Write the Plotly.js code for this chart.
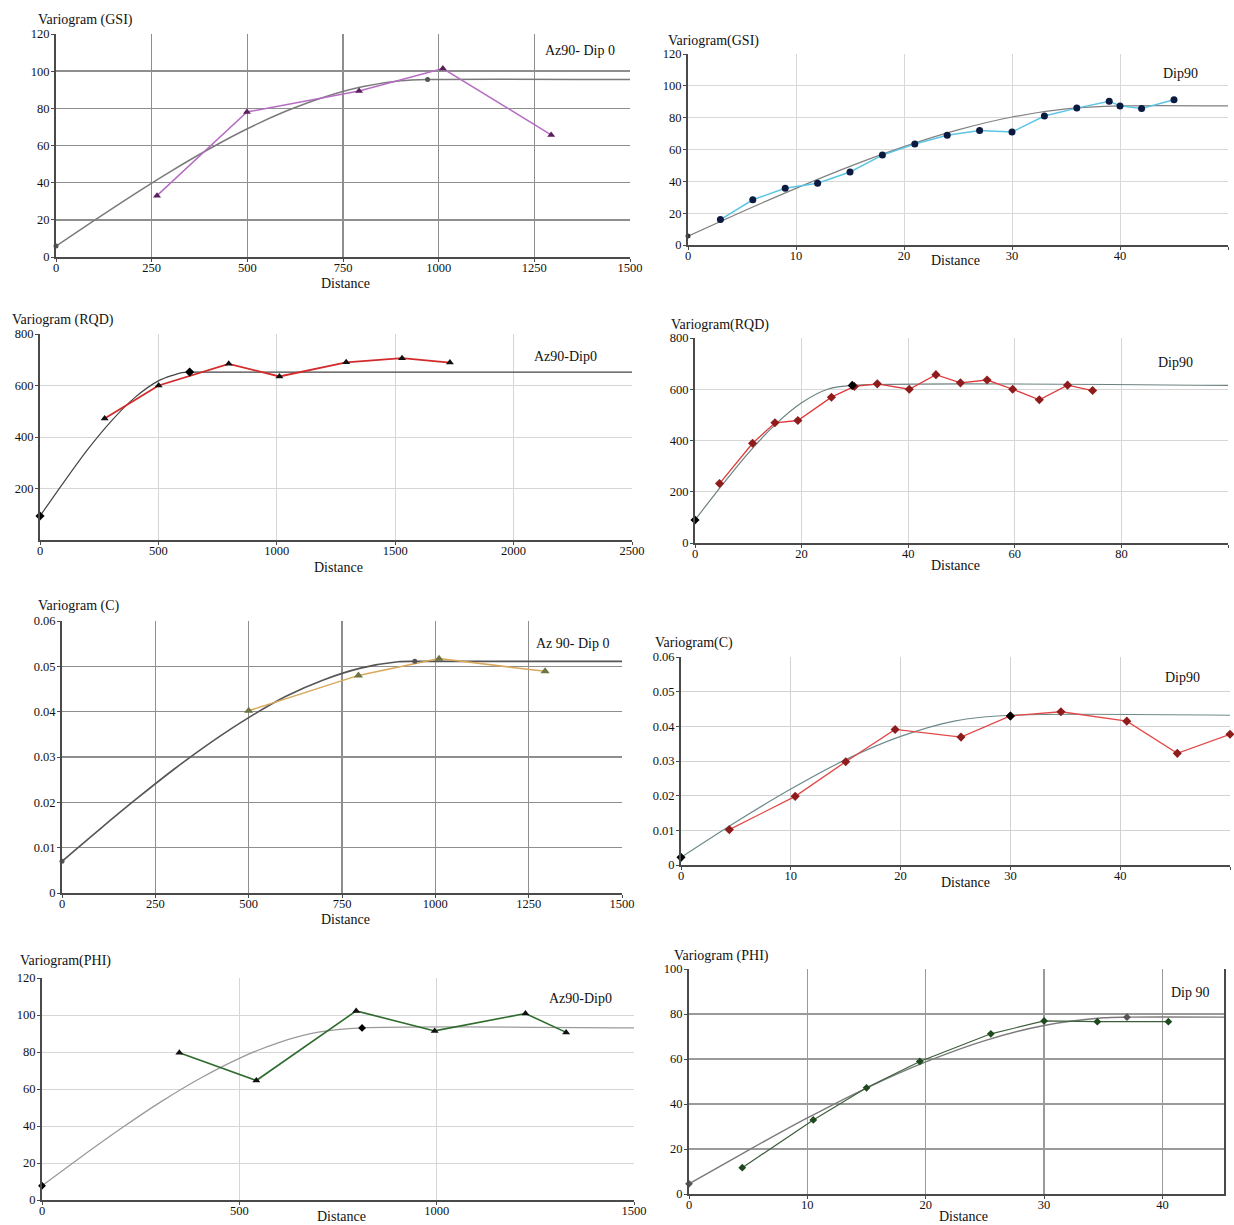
<!DOCTYPE html>
<html>
<head>
<meta charset="utf-8">
<script src="https://cdn.plot.ly/plotly-3.0.1.min.js"></script>
<style>html,body{margin:0;padding:0;background:#fff;}#chart{width:1234px;height:1225px;}</style>
</head>
<body>
<div id="chart"></div>
<script>
// ---------- Panel 1: Variogram (GSI), Az90- Dip 0 ----------
var gsiAzDist   = [264, 499, 792, 1011, 1294];
var gsiAzGamma  = [33.0, 78.0, 89.3, 101.4, 65.7];
var gsiAzModelX = [0, 100, 200, 300, 400, 500, 600, 700, 800, 900, 971, 1500];
var gsiAzModelY = [5.9, 19.7, 33.2, 46.1, 58.1, 69.0, 78.4, 86.0, 91.6, 94.8, 95.5, 95.5];
var gsiAzMarkX  = [0, 971];
var gsiAzMarkY  = [5.9, 95.5];

// ---------- Panel 2: Variogram(GSI), Dip90 ----------
var gsiDipDist   = [3, 6, 9, 12, 15, 18, 21, 24, 27, 30, 33, 36, 39, 40, 42, 45];
var gsiDipGamma  = [16.0, 28.4, 35.7, 38.8, 45.9, 56.5, 63.5, 68.9, 72.0, 71.0, 81.0, 86.0, 90.3, 87.4, 85.7, 91.3];
var gsiDipModelX = [0, 5, 10, 15, 20, 25, 30, 35, 40, 50];
var gsiDipModelY = [5.6, 20.9, 35.6, 49.4, 61.8, 72.3, 80.4, 85.5, 87.4, 87.4];
var gsiDipMarkX  = [0];
var gsiDipMarkY  = [5.6];

// ---------- Panel 3: Variogram (RQD), Az90-Dip0 ----------
var rqdAzDist   = [273, 501, 797, 1011, 1293, 1529, 1731];
var rqdAzGamma  = [472, 600, 684, 635, 690, 706, 689];
var rqdAzModelX = [0, 100, 200, 300, 400, 500, 600, 632, 2500];
var rqdAzModelY = [93, 224, 350, 461, 553, 618, 650, 652, 652];
var rqdAzMarkX  = [0, 632];
var rqdAzMarkY  = [93, 652];

// ---------- Panel 4: Variogram(RQD), Dip90 ----------
var rqdDipDist   = [4.6, 10.8, 15.0, 19.3, 25.6, 29.9, 34.2, 40.2, 45.2, 49.8, 54.8, 59.6, 64.6, 69.9, 74.6];
var rqdDipGamma  = [232, 389, 469, 478, 569, 611, 621, 600, 657, 625, 636, 600, 559, 616, 595];
var rqdDipModelX = [0, 5, 10, 15, 20, 25, 29.5, 100];
var rqdDipModelY = [90, 224, 351, 461, 547, 601, 615, 615];
var rqdDipMarkX  = [0, 29.5];
var rqdDipMarkY  = [90, 615];

// ---------- Panel 5: Variogram (C), Az 90- Dip 0 ----------
var cAzDist   = [500, 794, 1010, 1294];
var cAzGamma  = [0.0402, 0.0480, 0.0517, 0.0489];
var cAzModelX = [0, 100, 200, 300, 400, 500, 600, 700, 800, 900, 945, 1500];
var cAzModelY = [0.0070, 0.0140, 0.0208, 0.0273, 0.0333, 0.0387, 0.0434, 0.0470, 0.0496, 0.0510, 0.0511, 0.0511];
var cAzMarkX  = [0, 945];
var cAzMarkY  = [0.0070, 0.0511];

// ---------- Panel 6: Variogram(C), Dip90 ----------
var cDipDist   = [4.4, 10.4, 15.0, 19.5, 25.5, 30.0, 34.6, 40.6, 45.2, 50.0];
var cDipGamma  = [0.0102, 0.0198, 0.0298, 0.0391, 0.0369, 0.0430, 0.0442, 0.0415, 0.0322, 0.0377];
var cDipModelX = [0, 5, 10, 15, 20, 25, 30, 50];
var cDipModelY = [0.0022, 0.0124, 0.0219, 0.0304, 0.0371, 0.0416, 0.0432, 0.0432];
var cDipMarkX  = [0, 30];
var cDipMarkY  = [0.0022, 0.0430];

// ---------- Panel 7: Variogram(PHI), Az90-Dip0 ----------
var phiAzDist   = [348, 543, 796, 995, 1225, 1328];
var phiAzGamma  = [79.6, 64.6, 102.2, 91.4, 100.8, 90.6];
var phiAzModelX = [0, 100, 200, 300, 400, 500, 600, 700, 811, 1500];
var phiAzModelY = [7.7, 23.4, 38.6, 52.9, 65.7, 76.6, 85.1, 90.7, 93.0, 93.0];
var phiAzMarkX  = [0, 811];
var phiAzMarkY  = [7.7, 93.0];

// ---------- Panel 8: Variogram (PHI), Dip 90 ----------
var phiDipDist   = [4.5, 10.5, 15.0, 19.5, 25.5, 30.0, 34.5, 40.5];
var phiDipGamma  = [11.7, 32.9, 47.2, 58.9, 71.2, 76.9, 76.6, 76.6];
var phiDipModelX = [0, 5, 10, 15, 20, 25, 30, 35, 37, 45.2];
var phiDipModelY = [4.5, 19.4, 33.8, 47.1, 58.7, 68.2, 74.9, 78.3, 78.6, 78.6];
var phiDipMarkX  = [0, 37];
var phiDipMarkY  = [4.5, 78.6];

// ---------- Text ----------
var yTitles  = ["Variogram (GSI)", "Variogram(GSI)", "Variogram (RQD)", "Variogram(RQD)",
                "Variogram (C)", "Variogram(C)", "Variogram(PHI)", "Variogram (PHI)"];
var dirTexts = ["Az90- Dip 0", "Dip90", "Az90-Dip0", "Dip90", "Az 90- Dip 0", "Dip90", "Az90-Dip0", "Dip 90"];
var xTitle = "Distance";

// ---------- Tick values ----------
var xTicks = [
  [0, 250, 500, 750, 1000, 1250, 1500],
  [0, 10, 20, 30, 40, 50],
  [0, 500, 1000, 1500, 2000, 2500],
  [0, 20, 40, 60, 80, 100],
  [0, 250, 500, 750, 1000, 1250, 1500],
  [0, 10, 20, 30, 40, 50],
  [0, 500, 1000, 1500],
  [0, 10, 20, 30, 40]
];
var yTicks = [
  [0, 20, 40, 60, 80, 100, 120],
  [0, 20, 40, 60, 80, 100, 120],
  [200, 400, 600, 800],
  [0, 200, 400, 600, 800],
  [0, 0.01, 0.02, 0.03, 0.04, 0.05, 0.06],
  [0, 0.01, 0.02, 0.03, 0.04, 0.05, 0.06],
  [0, 20, 40, 60, 80, 100, 120],
  [0, 20, 40, 60, 80, 100]
];
var yTickText = [
  null, null, null, null,
  ["0", "0.01", "0.02", "0.03", "0.04", "0.05", "0.06"],
  ["0", "0.01", "0.02", "0.03", "0.04", "0.05", "0.06"],
  null, null
];

// ---------- Layout / style (pixels, not data) ----------
var W = 1234, H = 1225;
var P = [
  {x0: 56,  x1: 630,  y0: 34,  y1: 257,  xr: [0, 1500], yr: [0, 120]},
  {x0: 688, x1: 1228, y0: 54,  y1: 245,  xr: [0, 50],   yr: [0, 120]},
  {x0: 40,  x1: 632,  y0: 334, y1: 540,  xr: [0, 2500], yr: [0, 800]},
  {x0: 695, x1: 1228, y0: 338, y1: 543,  xr: [0, 100],  yr: [0, 800]},
  {x0: 62,  x1: 622,  y0: 621, y1: 893,  xr: [0, 1500], yr: [0, 0.06]},
  {x0: 681, x1: 1230, y0: 657, y1: 865,  xr: [0, 50],   yr: [0, 0.06]},
  {x0: 42,  x1: 634,  y0: 978, y1: 1200, xr: [0, 1500], yr: [0, 120]},
  {x0: 689, x1: 1224, y0: 969, y1: 1194, xr: [0, 45.2], yr: [0, 100]}
];
var ST = [
  {grid: '#8e8e8e', gw: 1.5, data: '#b56cc2', dw: 1.5, mk: '#5b1f5e', sym: 'triangle-up', ms: 7, model: '#7a7a7a', mw: 1.5, mark: '#555', msym: 'circle', mms: 5},
  {grid: '#d8d8d8', gw: 1,   data: '#5cc4e4', dw: 1.5, mk: '#0b1a40', sym: 'circle',      ms: 7, model: '#808080', mw: 1.2, mark: '#333', msym: 'circle', mms: 5},
  {grid: '#d6d6d6', gw: 1,   data: '#d42a2a', dw: 1.8, mk: '#111111', sym: 'triangle-up', ms: 7, model: '#444444', mw: 1.2, mark: '#000', msym: 'diamond', mms: 7},
  {grid: '#d6d6d6', gw: 1,   data: '#e03a3a', dw: 1.3, mk: '#8e1c1c', sym: 'diamond',     ms: 7, model: '#6d8080', mw: 1.2, mark: '#000', msym: 'diamond', mms: 7},
  {grid: '#8e8e8e', gw: 1.5, data: '#d9a85a', dw: 1.5, mk: '#6f7442', sym: 'triangle-up', ms: 8, model: '#555555', mw: 1.6, mark: '#555', msym: 'circle', mms: 5},
  {grid: '#d2d2d2', gw: 1,   data: '#e34848', dw: 1.3, mk: '#8e1c1c', sym: 'diamond',     ms: 7, model: '#6d8a8a', mw: 1.2, mark: '#000', msym: 'diamond', mms: 7},
  {grid: '#d6d6d6', gw: 1,   data: '#2d6b2d', dw: 1.6, mk: '#111111', sym: 'triangle-up', ms: 7, model: '#9a9a9a', mw: 1.3, mark: '#000', msym: 'diamond', mms: 6},
  {grid: '#9a9a9a', gw: 1.3, data: '#3d5e3d', dw: 1.2, mk: '#1f4a1f', sym: 'diamond',     ms: 6, model: '#7a7a7a', mw: 1.4, mark: '#555', msym: 'diamond', mms: 6}
];
var titlePos = [[36, 20], [666, 41], [10, 320], [669, 325], [36, 606], [653, 643], [18, 961], [672, 956]];
var distPos  = [[345, 283], [955, 260], [338, 567], [955, 565], [345, 919], [965, 882], [342, 1216], [963, 1216]];
var dirPos   = [[580, 50], [1180, 73], [565, 357], [1175, 362], [573, 643], [1182, 677], [580, 998], [1190, 992]];

var series = [
  [gsiAzDist, gsiAzGamma, gsiAzModelX, gsiAzModelY, gsiAzMarkX, gsiAzMarkY],
  [gsiDipDist, gsiDipGamma, gsiDipModelX, gsiDipModelY, gsiDipMarkX, gsiDipMarkY],
  [rqdAzDist, rqdAzGamma, rqdAzModelX, rqdAzModelY, rqdAzMarkX, rqdAzMarkY],
  [rqdDipDist, rqdDipGamma, rqdDipModelX, rqdDipModelY, rqdDipMarkX, rqdDipMarkY],
  [cAzDist, cAzGamma, cAzModelX, cAzModelY, cAzMarkX, cAzMarkY],
  [cDipDist, cDipGamma, cDipModelX, cDipModelY, cDipMarkX, cDipMarkY],
  [phiAzDist, phiAzGamma, phiAzModelX, phiAzModelY, phiAzMarkX, phiAzMarkY],
  [phiDipDist, phiDipGamma, phiDipModelX, phiDipModelY, phiDipMarkX, phiDipMarkY]
];

var FONT = 'Liberation Serif, Times New Roman, serif';
var traces = [];
var layout = {
  width: W, height: H,
  margin: {l: 0, r: 0, t: 0, b: 0},
  paper_bgcolor: '#ffffff', plot_bgcolor: '#ffffff',
  showlegend: false, hovermode: false,
  font: {family: FONT, size: 12, color: '#111'},
  annotations: []
};

for (var i = 0; i < 8; i++) {
  var n = i + 1, s = ST[i], p = P[i], d = series[i];
  var xa = 'x' + (n === 1 ? '' : n), ya = 'y' + (n === 1 ? '' : n);
  // model curve
  traces.push({x: d[2], y: d[3], xaxis: xa, yaxis: ya, mode: 'lines', cliponaxis: false,
    line: {color: s.model, width: s.mw, shape: 'spline', smoothing: 0.8}});
  // experimental variogram
  traces.push({x: d[0], y: d[1], xaxis: xa, yaxis: ya, mode: 'lines+markers', cliponaxis: false,
    line: {color: s.data, width: s.dw},
    marker: {color: s.mk, symbol: s.sym, size: s.ms}});
  // model marks (nugget / range)
  traces.push({x: d[4], y: d[5], xaxis: xa, yaxis: ya, mode: 'markers', cliponaxis: false,
    marker: {color: s.mark, symbol: s.msym, size: s.mms}});

  var xkey = 'xaxis' + (n === 1 ? '' : n), ykey = 'yaxis' + (n === 1 ? '' : n);
  layout[xkey] = {
    domain: [p.x0 / W, p.x1 / W], range: p.xr, anchor: ya,
    tickmode: 'array', tickvals: xTicks[i],
    showgrid: true, gridcolor: s.grid, gridwidth: s.gw,
    zeroline: false, showline: true, linecolor: '#4a4a4a', linewidth: 2,
    ticks: 'outside', ticklen: 3, tickcolor: '#4a4a4a', tickwidth: 1,
    ticklabelstandoff: -5,
    tickfont: {family: FONT, size: 12.5, color: '#111'}, fixedrange: true
  };
  layout[ykey] = {
    domain: [1 - p.y1 / H, 1 - p.y0 / H], range: p.yr, anchor: xa,
    tickmode: 'array', tickvals: yTicks[i],
    showgrid: true, gridcolor: s.grid, gridwidth: s.gw,
    zeroline: false, showline: true, linecolor: '#4a4a4a', linewidth: 2,
    ticks: 'outside', ticklen: 3, tickcolor: '#4a4a4a', tickwidth: 1,
    ticklabelstandoff: -1,
    tickfont: {family: FONT, size: 12.5, color: '#111'}, fixedrange: true
  };
  if (yTickText[i]) layout[ykey].ticktext = yTickText[i];

  layout.annotations.push({xref: 'paper', yref: 'paper', x: titlePos[i][0] / W, y: 1 - titlePos[i][1] / H,
    xanchor: 'left', yanchor: 'middle', showarrow: false, text: yTitles[i],
    font: {family: FONT, size: 14, color: '#111'}});
  layout.annotations.push({xref: 'paper', yref: 'paper', x: distPos[i][0] / W, y: 1 - distPos[i][1] / H,
    xanchor: 'center', yanchor: 'middle', showarrow: false, text: xTitle,
    font: {family: FONT, size: 14, color: '#111'}});
  layout.annotations.push({xref: 'paper', yref: 'paper', x: dirPos[i][0] / W, y: 1 - dirPos[i][1] / H,
    xanchor: 'center', yanchor: 'middle', showarrow: false, text: dirTexts[i],
    font: {family: FONT, size: 14, color: '#111'}});
}
// right border for the last panel (range does not end on a tick)
layout.yaxis8.mirror = true;

Plotly.newPlot('chart', traces, layout, {displayModeBar: false, staticPlot: true});
</script>
</body>
</html>
